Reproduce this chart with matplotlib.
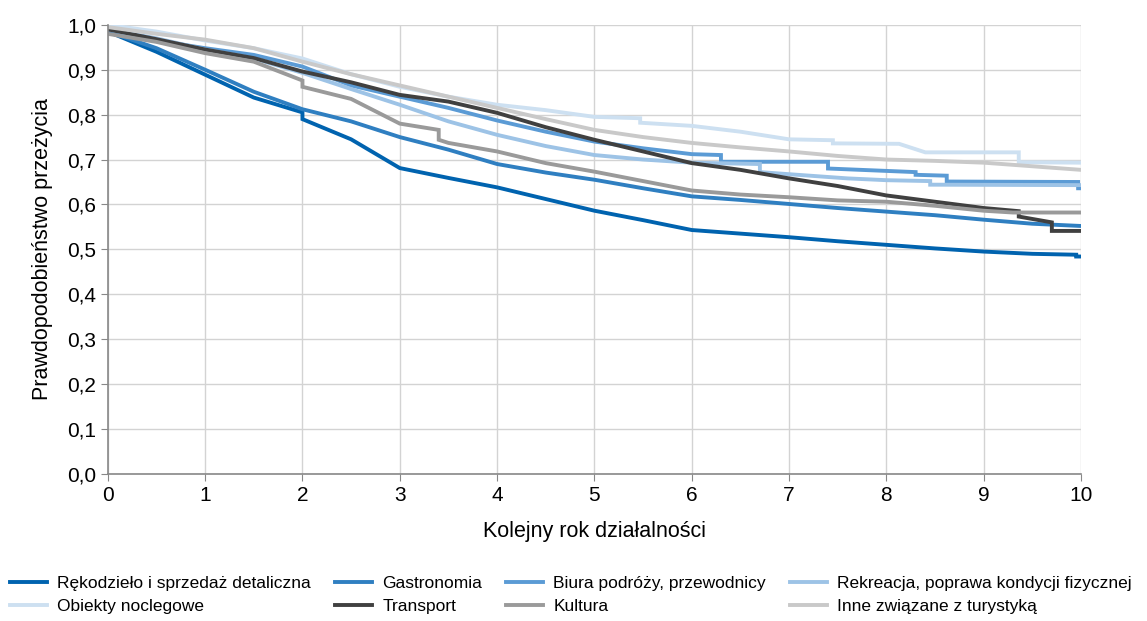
import matplotlib
matplotlib.use("Agg")
import matplotlib.pyplot as plt

plt.rcParams["font.family"] = ["Liberation Sans", "DejaVu Sans"]

# Survival curves (year, probability); a repeated year is a step.
labels = [
    "Rękodzieło i sprzedaż detaliczna",
    "Gastronomia",
    "Biura podróży, przewodnicy",
    "Rekreacja, poprawa kondycji fizycznej",
    "Obiekty noclegowe",
    "Transport",
    "Kultura",
    "Inne związane z turystyką",
]
colors = ["#0063AF", "#2F7FC1", "#5B9BD5", "#9DC3E6",
          "#CDE0F1", "#404040", "#9A9A9A", "#C9C9C9"]

reko_t = [0, 0.5, 1, 1.5, 2, 2, 2.5, 3, 3.5, 4, 4.5, 5, 5.5, 6, 6.5, 7, 7.5, 8,
          8.5, 9, 9.5, 9.95, 9.95, 10]
reko_v = [0.985, 0.94, 0.889, 0.838, 0.805, 0.79, 0.745, 0.681, 0.659, 0.638,
          0.612, 0.586, 0.565, 0.543, 0.535, 0.527, 0.518, 0.51, 0.502, 0.495,
          0.49, 0.488, 0.484, 0.484]

gastro_t = [0, 0.5, 1, 1.5, 2, 2.5, 3, 3.5, 4, 4.5, 5, 5.5, 6, 6.5, 7, 7.5, 8,
            8.5, 9, 9.5, 10]
gastro_v = [0.985, 0.948, 0.90, 0.851, 0.812, 0.785, 0.75, 0.722, 0.69, 0.671,
            0.655, 0.636, 0.618, 0.61, 0.601, 0.592, 0.584, 0.576, 0.566,
            0.557, 0.552]

biura_t = [0, 0.5, 1, 1.5, 2, 2.5, 3, 3.5, 4, 4.5, 5, 5.5, 6, 6.3, 6.3, 7.4,
           7.4, 8.3, 8.3, 8.62, 8.62, 9.97, 9.97, 10]
biura_v = [0.99, 0.965, 0.948, 0.933, 0.907, 0.865, 0.84, 0.815, 0.787, 0.762,
           0.74, 0.725, 0.712, 0.710, 0.695, 0.695, 0.680, 0.672, 0.666, 0.664,
           0.651, 0.650, 0.636, 0.636]

rekre_t = [0, 0.5, 1, 1.5, 2, 2.5, 3, 3.5, 4, 4.5, 5, 5.5, 6, 6.7, 6.7, 7.6, 8,
           8.45, 8.45, 10]
rekre_v = [0.99, 0.97, 0.945, 0.925, 0.893, 0.857, 0.822, 0.785, 0.755, 0.73,
           0.71, 0.70, 0.693, 0.69, 0.672, 0.658, 0.654, 0.652, 0.644, 0.643]

nocleg_t = [0, 0.5, 1, 1.5, 2, 2.5, 3, 3.5, 4, 4.5, 5, 5.47, 5.47, 6, 6.5, 7,
            7.45, 7.45, 8.13, 8.4, 9.36, 9.36, 10]
nocleg_v = [1.0, 0.985, 0.965, 0.948, 0.925, 0.89, 0.862, 0.84, 0.822, 0.81,
            0.795, 0.792, 0.782, 0.775, 0.762, 0.745, 0.743, 0.736, 0.735,
            0.716, 0.716, 0.694, 0.693]

transport_t = [0, 0.5, 1, 1.5, 2, 2.5, 3, 3.5, 4, 4.5, 5, 5.5, 6, 6.5, 7, 7.5,
               8, 8.5, 9, 9.36, 9.36, 9.7, 9.7, 10]
transport_v = [0.99, 0.968, 0.945, 0.926, 0.896, 0.872, 0.844, 0.829, 0.804,
               0.772, 0.744, 0.718, 0.692, 0.677, 0.658, 0.641, 0.62, 0.606,
               0.592, 0.585, 0.573, 0.56, 0.541, 0.541]

kultura_t = [0, 0.5, 1, 1.5, 2, 2, 2.5, 3, 3.4, 3.4, 3.5, 4, 4.5, 5, 5.5, 6,
             6.5, 7, 7.5, 8, 8.5, 9, 9.3, 10]
kultura_v = [0.98, 0.962, 0.937, 0.918, 0.876, 0.862, 0.835, 0.78, 0.766,
             0.744, 0.737, 0.718, 0.692, 0.673, 0.652, 0.631, 0.622, 0.616,
             0.609, 0.606, 0.597, 0.586, 0.582, 0.582]

inne_t = [0, 0.5, 1, 1.5, 2, 2.5, 3, 3.5, 4, 4.5, 5, 5.5, 6, 6.5, 7, 7.5, 8,
          8.5, 9, 9.5, 10]
inne_v = [0.995, 0.98, 0.967, 0.948, 0.918, 0.89, 0.865, 0.84, 0.815, 0.79,
          0.766, 0.75, 0.737, 0.727, 0.718, 0.708, 0.70, 0.697, 0.693, 0.685,
          0.677]

series = [
    (reko_t, reko_v),
    (gastro_t, gastro_v),
    (biura_t, biura_v),
    (rekre_t, rekre_v),
    (nocleg_t, nocleg_v),
    (transport_t, transport_v),
    (kultura_t, kultura_v),
    (inne_t, inne_v),
]

x_ticks = list(range(11))
y_ticks = [i / 10 for i in range(11)]
y_tick_labels = [f"{v:.1f}".replace(".", ",") for v in y_ticks]

fig = plt.figure(figsize=(11.47, 6.21), dpi=100)
ax = fig.add_axes([0.094, 0.237, 0.8485, 0.723])

lines = {}
for label, color, (t, v) in zip(labels, colors, series):
    (line,) = ax.plot(t, v, color=color, linewidth=2.8, label=label,
                      solid_joinstyle="miter")
    lines[label] = line

ax.set_xlim(0, 10)
ax.set_ylim(0, 1)
ax.set_xticks(x_ticks)
ax.set_yticks(y_ticks)
ax.set_yticklabels(y_tick_labels)
ax.tick_params(labelsize=15, colors="#000000", length=5, color="#888888")
ax.grid(True, color="#D3D3D3", linewidth=1)
ax.set_axisbelow(True)
for side in ["top", "right"]:
    ax.spines[side].set_visible(False)
for side in ["left", "bottom"]:
    ax.spines[side].set_color("#888888")
    ax.spines[side].set_linewidth(1.2)

ax.set_xlabel("Kolejny rok działalności", fontsize=15.5, labelpad=12)
ax.set_ylabel("Prawdopodobieństwo przeżycia", fontsize=15.5, labelpad=10)

# Legend fills column by column, so reorder to get the reference's rows.
order = [0, 4, 1, 5, 2, 6, 3, 7]
handles = [lines[labels[i]] for i in order]
fig.legend(handles, [labels[i] for i in order], loc="lower left",
           bbox_to_anchor=(0.0, -0.005), ncol=4, frameon=False, fontsize=12.5,
           handlelength=2.1, handletextpad=0.6, columnspacing=1.4,
           labelspacing=0.45, borderaxespad=0.2)

fig.savefig("out.png", dpi=100)
